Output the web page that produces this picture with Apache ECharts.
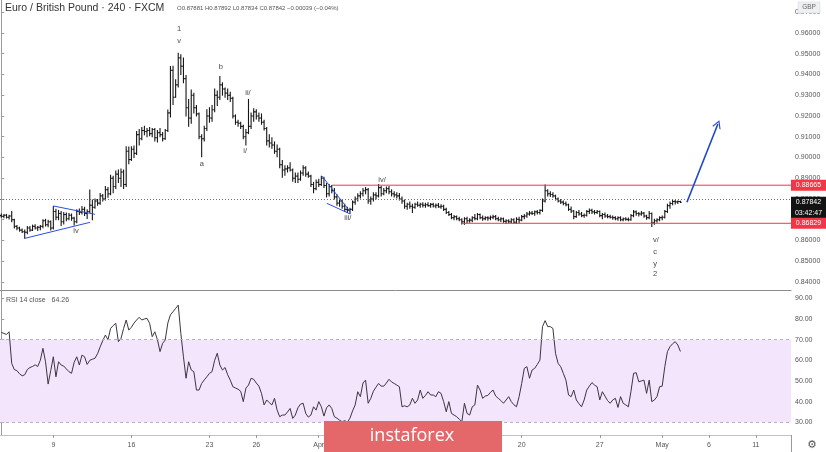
<!DOCTYPE html>
<html><head><meta charset="utf-8">
<script src="https://cdn.jsdelivr.net/npm/echarts@6/dist/echarts.min.js"></script>
<style>html,body{margin:0;padding:0;background:#fff}#c{width:826px;height:452px}</style>
</head><body><div id="c"></div>
<script>
// ---- EUR/GBP 4h bars (index 0 = first visible bar, Mar 9 00:00 = index 20) ----
const opens=[
.8720,.8716,.8722,.8712,.8718,.8700,.8668,.8660,.8650,.8642,
.8640,.8660,.8650,.8668,.8660,.8664,.8668,.8695,.8676,.8690,
.8660,.8740,.8712,.8730,.8690,.8725,.8705,.8722,.8708,.8690,
.8740,.8735,.8750,.8730,.8740,.8770,.8760,.8790,.8780,.8815,
.8800,.8845,.8825,.8900,.8860,.8920,.8900,.8930,.8870,.9030,
.8990,.9040,.9020,.9110,.9090,.9130,.9125,.9130,.9115,.9135,
.9095,.9120,.9110,.9090,.9130,.9215,.9420,.9290,.9350,.9480,
.9440,.9380,.9240,.9190,.9300,.9240,.9210,.9100,.9090,.9140,
.9200,.9190,.9230,.9300,.9290,.9350,.9330,.9310,.9300,.9285,
.9200,.9170,.9165,.9150,.9100,.9120,.9150,.9200,.9220,.9200,
.9190,.9170,.9140,.9080,.9070,.9060,.9030,.9040,.8965,.8940,
.8945,.8950,.8940,.8900,.8910,.8895,.8925,.8950,.8920,.8910,
.8870,.8850,.8880,.8870,.8900,.8865,.8825,.8860,.8840,.8810,
.8780,.8790,.8765,.8750,.8745,.8750,.8785,.8800,.8815,.8825,
.8840,.8845,.8790,.8800,.8820,.8815,.8855,.8825,.8840,.8850,
.8835,.8825,.8820,.8815,.8800,.8790,.8765,.8775,.8765,.8760,
.8775,.8770,.8775,.8770,.8772,.8768,.8774,.8766,.8770,.8762,
.8765,.8750,.8735,.8725,.8710,.8715,.8705,.8700,.8690,.8705,
.8695,.8698,.8710,.8705,.8725,.8710,.8705,.8710,.8708,.8712,
.8715,.8705,.8700,.8705,.8692,.8695,.8690,.8700,.8688,.8702,
.8698,.8715,.8718,.8728,.8732,.8730,.8738,.8735,.8745,.8790,
.8840,.8825,.8822,.8815,.8800,.8790,.8785,.8778,.8772,.8750,
.8742,.8715,.8735,.8728,.8720,.8722,.8740,.8745,.8738,.8735,
.8740,.8720,.8725,.8718,.8715,.8712,.8710,.8705,.8710,.8700,
.8705,.8702,.8700,.8720,.8738,.8730,.8728,.8732,.8718,.8710,
.8730,.8685,.8695,.8700,.8710,.8712,.8740,.8768,.8778,.8788,
.8786,.87881];
const highs=[
.8728,.8725,.8726,.8722,.8740,.8702,.8672,.8664,.8655,.8650,
.8667,.8668,.8674,.8676,.8668,.8672,.8700,.8702,.8698,.8694,
.8764,.8750,.8745,.8740,.8735,.8732,.8730,.8728,.8712,.8748,
.8752,.8764,.8760,.8748,.8843,.8795,.8800,.8798,.8826,.8822,
.8860,.8855,.8915,.8910,.8935,.8940,.8945,.8940,.9052,.9050,
.9052,.9055,.9125,.9135,.9145,.9150,.9140,.9145,.9140,.9140,
.9130,.9140,.9120,.9135,.9229,.9438,.9440,.9375,.9502,.9495,
.9480,.9395,.9280,.9325,.9310,.9250,.9215,.9110,.9150,.9230,
.9240,.9250,.9330,.9320,.9390,.9360,.9335,.9330,.9315,.9290,
.9205,.9180,.9170,.9155,.9135,.9280,.9215,.9235,.9230,.9215,
.9210,.9180,.9145,.9110,.9095,.9075,.9060,.9045,.8985,.8960,
.8960,.8975,.8945,.8925,.8925,.8935,.8960,.8955,.8930,.8915,
.8880,.8892,.8895,.8910,.8905,.8875,.8870,.8865,.8850,.8820,
.8800,.8795,.8775,.8760,.8755,.8790,.8810,.8825,.8835,.8850,
.8855,.8850,.8810,.8830,.8830,.8870,.8860,.8850,.8858,.8860,
.8845,.8835,.8830,.8827,.8810,.8795,.8780,.8785,.8775,.8780,
.8785,.8780,.8782,.8780,.8782,.8778,.8780,.8776,.8778,.8772,
.8770,.8755,.8740,.8730,.8720,.8718,.8712,.8705,.8710,.8712,
.8705,.8715,.8725,.8730,.8728,.8718,.8715,.8715,.8718,.8722,
.8720,.8712,.8710,.8708,.8700,.8700,.8705,.8705,.8710,.8712,
.8720,.8725,.8735,.8740,.8740,.8742,.8745,.8748,.8800,.8868,
.8845,.8835,.8830,.8818,.8805,.8798,.8790,.8785,.8775,.8762,
.8745,.8740,.8745,.8735,.8728,.8745,.8752,.8750,.8745,.8745,
.8742,.8730,.8732,.8725,.8722,.8718,.8715,.8715,.8715,.8708,
.8710,.8708,.8725,.8745,.8742,.8735,.8740,.8735,.8722,.8740,
.8732,.8702,.8705,.8715,.8718,.8745,.8775,.8785,.8795,.8793,
.8790,.87892];
const lows=[
.8712,.8710,.8708,.8704,.8690,.8660,.8652,.8645,.8638,.8611,
.8632,.8645,.8648,.8655,.8648,.8652,.8662,.8670,.8666,.8650,
.8655,.8700,.8700,.8672,.8680,.8695,.8700,.8698,.8675,.8685,
.8725,.8728,.8720,.8706,.8735,.8700,.8755,.8770,.8775,.8790,
.8795,.8808,.8820,.8830,.8850,.8880,.8860,.8850,.8860,.8970,
.8985,.9000,.9015,.9060,.9085,.9110,.9100,.9105,.9100,.9080,
.9075,.9100,.9080,.9088,.9125,.9195,.9255,.9290,.9340,.9400,
.9360,.9200,.9150,.9165,.9215,.9200,.9090,.9004,.9080,.9130,
.9170,.9175,.9220,.9250,.9280,.9300,.9290,.9280,.9270,.9190,
.9160,.9150,.9140,.9090,.9060,.9115,.9140,.9175,.9185,.9175,
.9160,.9133,.9060,.9050,.9045,.9020,.9004,.8950,.8905,.8915,
.8930,.8935,.8885,.8880,.8880,.8890,.8915,.8910,.8905,.8860,
.8830,.8845,.8860,.8865,.8855,.8810,.8815,.8830,.8800,.8770,
.8765,.8755,.8740,.8735,.8730,.8745,.8775,.8790,.8805,.8815,
.8825,.8780,.8775,.8790,.8800,.8810,.8815,.8820,.8830,.8825,
.8815,.8810,.8805,.8795,.8780,.8755,.8750,.8755,.8735,.8755,
.8765,.8760,.8762,.8760,.8765,.8760,.8762,.8758,.8760,.8755,
.8745,.8730,.8720,.8705,.8700,.8700,.8695,.8680,.8678,.8685,
.8688,.8690,.8700,.8700,.8705,.8698,.8700,.8698,.8700,.8705,
.8700,.8695,.8692,.8688,.8682,.8685,.8685,.8683,.8682,.8685,
.8695,.8705,.8712,.8722,.8725,.8722,.8728,.8728,.8740,.8785,
.8815,.8812,.8808,.8795,.8785,.8778,.8772,.8768,.8745,.8735,
.8705,.8712,.8722,.8715,.8712,.8718,.8730,.8730,.8728,.8730,
.8715,.8705,.8712,.8710,.8708,.8702,.8700,.8698,.8695,.8695,
.8698,.8695,.8698,.8715,.8722,.8718,.8722,.8712,.8702,.8705,
.8668,.8678,.8688,.8695,.8700,.8708,.8735,.8755,.8772,.8776,
.8778,.87834];
const closes=[
.8716,.8722,.8712,.8718,.8700,.8668,.8660,.8650,.8642,.8640,
.8660,.8650,.8668,.8660,.8664,.8668,.8695,.8676,.8690,.8660,
.8740,.8712,.8730,.8690,.8725,.8705,.8722,.8708,.8690,.8740,
.8735,.8750,.8730,.8740,.8770,.8760,.8790,.8780,.8815,.8800,
.8845,.8825,.8900,.8860,.8920,.8900,.8930,.8870,.9030,.8990,
.9040,.9020,.9110,.9090,.9130,.9125,.9130,.9115,.9135,.9095,
.9120,.9110,.9090,.9130,.9215,.9420,.9290,.9350,.9480,.9440,
.9380,.9240,.9190,.9300,.9240,.9210,.9100,.9090,.9140,.9200,
.9190,.9230,.9300,.9290,.9350,.9330,.9310,.9300,.9285,.9200,
.9170,.9165,.9150,.9100,.9120,.9150,.9200,.9220,.9200,.9190,
.9170,.9140,.9080,.9070,.9060,.9030,.9040,.8965,.8940,.8945,
.8950,.8940,.8900,.8910,.8895,.8925,.8950,.8920,.8910,.8870,
.8850,.8880,.8870,.8900,.8865,.8825,.8860,.8840,.8810,.8780,
.8790,.8765,.8750,.8745,.8750,.8785,.8800,.8815,.8825,.8840,
.8845,.8790,.8800,.8820,.8815,.8855,.8825,.8840,.8850,.8835,
.8825,.8820,.8815,.8800,.8790,.8765,.8775,.8765,.8760,.8775,
.8770,.8775,.8770,.8772,.8768,.8774,.8766,.8770,.8762,.8765,
.8750,.8735,.8725,.8710,.8715,.8705,.8700,.8690,.8705,.8695,
.8698,.8710,.8705,.8725,.8710,.8705,.8710,.8708,.8712,.8715,
.8705,.8700,.8705,.8692,.8695,.8690,.8700,.8688,.8702,.8698,
.8715,.8718,.8728,.8732,.8730,.8738,.8735,.8745,.8790,.8840,
.8825,.8822,.8815,.8800,.8790,.8785,.8778,.8772,.8750,.8742,
.8715,.8735,.8728,.8720,.8722,.8740,.8745,.8738,.8735,.8740,
.8720,.8725,.8718,.8715,.8712,.8710,.8705,.8710,.8700,.8705,
.8702,.8700,.8720,.8738,.8730,.8728,.8732,.8718,.8710,.8730,
.8685,.8695,.8700,.8710,.8712,.8740,.8768,.8778,.8788,.8786,
.8788,.87842];
// ---- RSI 14 (close) ----
const rsi=[
73.5,73.0,72.5,73.8,58.5,55.5,55.0,53.5,52.5,53.0,
55.5,56.5,57.0,57.8,57.0,60.0,65.8,59.3,48.5,55.0,
61.7,52.0,59.3,57.7,57.2,55.8,54.5,53.7,59.0,61.7,
57.7,62.5,61.7,58.0,60.0,60.5,61.0,63.2,66.5,69.5,
72.2,70.0,75.4,76.8,77.9,69.0,70.6,75.4,79.5,74.6,
76.0,78.0,79.5,80.8,79.5,80.0,80.3,77.9,71.4,73.8,
70.0,64.2,68.2,69.8,78.0,82.0,83.5,85.1,86.7,73.0,
61.7,51.3,59.3,55.3,54.5,45.6,45.6,48.8,50.5,52.0,
53.7,54.5,60.0,63.4,57.7,55.3,56.5,53.0,50.4,47.2,
46.6,46.0,45.0,40.0,46.5,48.0,51.3,50.8,49.0,47.5,
44.0,38.4,40.8,39.5,38.4,41.6,35.9,32.7,33.5,33.5,
35.0,36.7,31.9,33.5,37.0,38.8,39.2,34.3,32.5,33.5,
37.5,35.9,40.0,37.5,33.0,37.0,38.4,36.7,32.7,32.0,
31.0,30.3,30.8,30.0,32.0,35.5,38.4,44.8,42.4,49.0,
50.4,39.2,41.6,45.0,47.0,48.8,47.5,47.5,49.0,50.8,
49.5,48.8,48.0,47.2,37.5,38.0,37.5,38.4,41.6,39.2,
40.8,45.6,41.6,43.0,44.8,43.2,43.2,42.4,44.8,44.0,
40.0,35.1,40.0,34.3,33.5,32.7,31.5,30.3,39.2,34.3,
33.5,37.5,38.4,48.0,45.6,41.6,42.7,43.0,44.5,45.6,
42.7,41.6,40.5,39.2,40.8,42.4,40.0,38.5,37.5,42.4,
48.8,56.1,56.9,51.3,55.3,56.1,58.0,60.1,76.3,79.2,
76.3,76.3,75.4,63.4,58.5,56.9,53.7,50.4,43.2,42.4,
45.6,40.8,39.0,37.5,40.8,45.6,47.5,49.2,48.0,47.2,
40.8,44.8,42.7,40.5,39.2,40.8,41.6,37.2,42.4,39.2,
38.4,37.5,45.0,53.7,54.0,49.6,50.0,50.4,44.0,50.4,
40.0,40.8,42.4,47.2,47.5,56.9,64.2,66.6,68.0,69.0,
67.4,64.26];
// ---- axes ----
const tickIdx=[20,50,80,98,122,140,170,200,230,254,272,290];
const tickLabels=['9','16','23','26','Apr','6','13','20','27','May','6','11'];
const priceTicks=[0.84,0.85,0.86,0.87,0.88,0.89,0.90,0.91,0.92,0.93,0.94,0.95,0.96,0.97];
const rsiTicks=[30,40,50,60,70,80,90];
// ---- levels & annotations ----
const resistance=0.88665, support=0.86829, lastPrice=0.87842;
const resistanceFrom=127, supportFrom=177;
const waveLabels=[
 ['1',68.3,0.9619],['v',68.3,0.9561],['b',84.4,0.9436],['ii/',94.8,0.9311],
 ['a',77.1,0.8969],['i/',93.7,0.9031],['iv',28.7,0.8646],['iii/',133.2,0.8708],
 ['iv/',146.3,0.8892],['v/',251.6,0.8602],['c',251.3,0.8545],['y',251.3,0.8487],['2',251.3,0.8439]];
const blueSegments=[
 [[20.0,0.87663],[36.0,0.87261]],
 [[9.1,0.86105],[34.1,0.86876]],
 [[123.2,0.89109],[134.1,0.87390]],
 [[125.1,0.87791],[134.1,0.87277]]];
const arrowSeg=[[263.5,0.87842],[275.4,0.91614]];

const FONT='"Liberation Sans", Arial, sans-serif';
const RED='#f23645', BLUE='#2a4fe0';
const chart=echarts.init(document.getElementById('c'),null,{renderer:'canvas'});
const ohlc=closes.map((c,i)=>[i,opens[i],highs[i],lows[i],c]);
const rsiData=rsi.map((v,i)=>[i,v]);

function renderBar(params,api){
  const i=api.value(0);
  const h=api.coord([i,api.value(2)]), l=api.coord([i,api.value(3)]);
  const o=api.coord([i,api.value(1)]), c=api.coord([i,api.value(4)]);
  const x=h[0], st={stroke:'#161616',lineWidth:1.1};
  return {type:'group',children:[
    {type:'line',shape:{x1:x,y1:h[1]-0.5,x2:x,y2:l[1]+0.5},style:st},
    {type:'line',shape:{x1:x-1.3,y1:o[1],x2:x,y2:o[1]},style:st},
    {type:'line',shape:{x1:x,y1:c[1],x2:x+1.3,y2:c[1]},style:st}]};
}
const chevron='path://M0,10 L5,0 L10,10 L8.6,10 L5,2.8 L1.4,10 Z';
function segSeries(pts,color,width){
  return {type:'line',xAxisIndex:0,yAxisIndex:0,data:pts,showSymbol:false,symbol:'none',silent:true,z:4,
    lineStyle:{color:color,width:width,type:'solid'},itemStyle:{color:color}};
}
const series=[
  {type:'custom',name:'EURGBP',xAxisIndex:0,yAxisIndex:0,data:ohlc,renderItem:renderBar,
   encode:{x:0,y:[1,2,3,4]},z:3,
   markLine:{silent:true,symbol:['none','none'],label:{show:false},animation:false,
     lineStyle:{type:[1,2],color:'#707070',width:1},data:[{yAxis:lastPrice}]}},
  segSeries([[resistanceFrom,resistance],[303.5,resistance]],RED,1),
  segSeries([[supportFrom,support],[303.5,support]],RED,1)
].concat(blueSegments.map(s=>segSeries(s,BLUE,1)))
 .concat([{type:'line',xAxisIndex:0,yAxisIndex:0,data:[],silent:true,z:4,
   markLine:{silent:true,symbol:['none',chevron],symbolSize:[9,8],label:{show:false},animation:false,
     lineStyle:{color:'#1e47c9',width:1.6,type:'solid'},itemStyle:{color:'#1e47c9'},
     data:[[{coord:arrowSeg[0]},{coord:arrowSeg[1]}]]}},
  {type:'scatter',xAxisIndex:0,yAxisIndex:0,symbolSize:1,itemStyle:{color:'rgba(0,0,0,0)'},silent:true,z:5,
   data:waveLabels.map(w=>({name:w[0],value:[w[1],w[2]]})),
   label:{show:true,position:'inside',formatter:'{b}',fontSize:7.5,color:'#111',fontFamily:FONT}},
  {type:'line',name:'RSI',xAxisIndex:1,yAxisIndex:1,data:rsiData,showSymbol:false,
   lineStyle:{color:'#3e3442',width:1},z:3,
   markArea:{silent:true,itemStyle:{color:'#f3e6fc'},data:[[{yAxis:30},{yAxis:70}]]},
   markLine:{silent:true,symbol:['none','none'],label:{show:false},
     lineStyle:{type:[3,3],color:'#b8b0c0',width:1},data:[{yAxis:70},{yAxis:30}]}}]);

const option={
  animation:false,backgroundColor:'#ffffff',
  textStyle:{fontFamily:FONT},
  grid:[{left:0,right:35,top:0,height:290},{left:0,right:35,top:291,height:144}],
  xAxis:[
    {type:'value',gridIndex:0,min:-0.5,max:303.5,axisLine:{show:true,onZero:false,lineStyle:{color:'#8c8c8c',width:1}},axisTick:{show:false},axisLabel:{show:false},splitLine:{show:false}},
    {type:'value',gridIndex:1,min:-0.5,max:303.5,axisLine:{show:true,onZero:false,lineStyle:{color:'#c2c2c2',width:1}},
     axisTick:{show:true,customValues:tickIdx,length:3,lineStyle:{color:'#9a9a9a'}},
     axisLabel:{customValues:tickIdx,formatter:v=>{const k=tickIdx.indexOf(Math.round(v));return k<0?'':tickLabels[k];},fontSize:7,color:'#555',margin:7,fontFamily:FONT},
     splitLine:{show:false}}],
  yAxis:[
    {type:'value',gridIndex:0,position:'right',min:0.83614,max:0.97590,
     axisLine:{show:true,lineStyle:{color:'#9a9a9a'}},
     axisTick:{show:true,customValues:priceTicks,length:3,lineStyle:{color:'#9a9a9a'}},
     axisLabel:{customValues:priceTicks,formatter:v=>v.toFixed(5),fontSize:7,color:'#555',margin:4,fontFamily:FONT},
     splitLine:{show:false}},
    {type:'value',gridIndex:1,position:'right',min:23.85,max:93.53,
     axisLine:{show:true,lineStyle:{color:'#9a9a9a'}},
     axisTick:{show:true,customValues:rsiTicks,length:3,lineStyle:{color:'#9a9a9a'}},
     axisLabel:{customValues:rsiTicks,formatter:v=>v.toFixed(2),fontSize:7,color:'#555',margin:4,fontFamily:FONT},
     splitLine:{show:false}}],
  series:series
};
chart.setOption(option);

const yR=chart.convertToPixel({yAxisIndex:0},resistance);
const yS=chart.convertToPixel({yAxisIndex:0},support);
const yL=chart.convertToPixel({yAxisIndex:0},lastPrice);
const axX=chart.convertToPixel({xAxisIndex:0},303.5);
const tagFont='7px '+FONT;
function tag(y,txt,fill){return [
  {type:'rect',shape:{x:axX,y:y-5.5,width:826-axX,height:11},style:{fill:fill},z:50},
  {type:'text',x:axX+17.5,y:y,style:{text:txt,fill:'#fff',font:tagFont,textAlign:'center',textVerticalAlign:'middle'},z:51}];}
const graphics=[]
 .concat(tag(yR,resistance.toFixed(5),RED))
 .concat([{type:'rect',shape:{x:axX,y:yL-5.5,width:826-axX,height:22.5},style:{fill:'#131313'},z:50},
   {type:'text',x:axX+17.5,y:yL,style:{text:lastPrice.toFixed(5),fill:'#fff',font:tagFont,textAlign:'center',textVerticalAlign:'middle'},z:51},
   {type:'text',x:axX+17.5,y:yL+11,style:{text:'03:42:47',fill:'#fff',font:tagFont,textAlign:'center',textVerticalAlign:'middle'},z:51}])
 .concat(tag(yS,support.toFixed(5),RED))
 .concat([
  {type:'rect',shape:{x:798,y:2,width:22,height:11},style:{fill:'#eef0f4',stroke:'#d8dbe2',lineWidth:0.6},z:50},
  {type:'text',x:809,y:7.5,style:{text:'GBP',fill:'#666',font:'6.5px '+FONT,textAlign:'center',textVerticalAlign:'middle'},z:51},
  {type:'text',x:5,y:8,style:{text:'Euro / British Pound · 240 · FXCM',fill:'#333',font:'10.5px '+FONT,textVerticalAlign:'middle'},z:51},
  {type:'text',x:177,y:8,style:{text:'O0.87881 H0.87892 L0.87834 C0.87842 −0.00039 (−0.04%)',fill:'#555',font:'6px '+FONT,textVerticalAlign:'middle'},z:51},
  {type:'text',x:6,y:300,style:{text:'RSI 14 close   64.26',fill:'#555',font:'7px '+FONT,textVerticalAlign:'middle'},z:51},
  {type:'line',shape:{x1:axX+0.5,y1:435,x2:axX+0.5,y2:452},style:{stroke:'#9a9a9a',lineWidth:1},z:50},
  {type:'text',x:812,y:445,style:{text:'⚙',fill:'#555',font:'11px "DejaVu Sans"',textAlign:'center',textVerticalAlign:'middle'},z:51},
  {type:'rect',shape:{x:324,y:421,width:178,height:31},style:{fill:'#e4686a'},z:60},
  {type:'text',x:412,y:436,style:{text:'instaforex',fill:'#ffffff',font:'18px "Open Sans"',textAlign:'center',textVerticalAlign:'middle'},z:61}
 ]);
chart.setOption({graphic:graphics});
</script></body></html>
